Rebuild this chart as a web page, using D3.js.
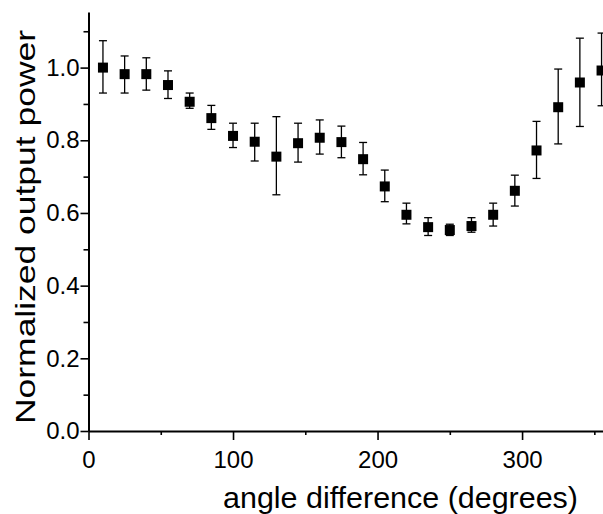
<!DOCTYPE html>
<html>
<head>
<meta charset="utf-8">
<script src="https://cdn.jsdelivr.net/npm/d3@7/dist/d3.min.js"></script>
<style>
  body { margin: 0; background: #fff; }
  text { font-family: "Liberation Sans", Arial, sans-serif; fill: #000; }
</style>
</head>
<body>
<script>
// chart data
var angles = [10, 25, 40, 55, 70, 85, 100, 115, 130, 145, 160, 175, 190, 205, 220, 235, 250, 265, 280, 295, 310, 325, 340, 355];
var power = [1.0, 0.982, 0.982, 0.952, 0.906, 0.861, 0.812, 0.796, 0.755, 0.792, 0.807, 0.795, 0.748, 0.673, 0.595, 0.561, 0.553, 0.564, 0.595, 0.661, 0.772, 0.891, 0.959, 0.992];
var errUp = [0.074, 0.05, 0.045, 0.039, 0.024, 0.035, 0.035, 0.051, 0.11, 0.055, 0.049, 0.044, 0.046, 0.045, 0.032, 0.026, 0.016, 0.023, 0.032, 0.043, 0.08, 0.105, 0.122, 0.103];
var errDown = [0.07, 0.052, 0.044, 0.037, 0.018, 0.031, 0.032, 0.053, 0.105, 0.052, 0.045, 0.043, 0.043, 0.042, 0.025, 0.023, 0.015, 0.017, 0.031, 0.042, 0.077, 0.101, 0.121, 0.097];
var xTicks = [0, 100, 200, 300];
var xMinor = [50, 150, 250, 350];
var yTicks = [0, 0.2, 0.4, 0.6, 0.8, 1.0];
var yMinor = [0.1, 0.3, 0.5, 0.7, 0.9, 1.1];

var w = 603, h = 514;

var svg = d3.select("body")
    .append("svg")
    .attr("width", w)
    .attr("height", h);

var x = d3.scaleLinear().domain([0, 356]).range([88.5, 603]);
var y = d3.scaleLinear().domain([0, 1.153]).range([431, 12]);

var pts = angles.map(function(a, i){
    return { a: a, v: power[i], up: errUp[i], dn: errDown[i] };
});

// minor ticks
svg.append("g")
    .attr("transform", "translate(0," + y(0) + ")")
    .call(d3.axisBottom(x).tickValues(xMinor).tickSize(4).tickSizeOuter(0).tickFormat(""))
    .call(function(g){ g.select(".domain").remove(); })
    .selectAll("line").attr("stroke-width", 1.6);

svg.append("g")
    .attr("transform", "translate(" + x(0) + ",0)")
    .call(d3.axisLeft(y).tickValues(yMinor).tickSize(5).tickSizeOuter(0).tickFormat(""))
    .call(function(g){ g.select(".domain").remove(); })
    .selectAll("line").attr("stroke-width", 1.6);

// x axis
var xAxis = svg.append("g")
    .attr("transform", "translate(0," + y(0) + ")")
    .call(d3.axisBottom(x).tickValues(xTicks).tickSize(9).tickSizeOuter(0).tickPadding(11));
xAxis.select(".domain").attr("stroke-width", 2);
xAxis.selectAll("line").attr("stroke-width", 1.6);
xAxis.selectAll("text")
    .style("font-size", "24px")
    .style("font-family", "'Liberation Sans', Arial, sans-serif");

// y axis
var yAxis = svg.append("g")
    .attr("transform", "translate(" + x(0) + ",0)")
    .call(d3.axisLeft(y).tickValues(yTicks).tickSize(8).tickSizeOuter(0).tickPadding(1).tickFormat(d3.format(".1f")));
yAxis.select(".domain").attr("stroke-width", 2);
yAxis.selectAll("line").attr("stroke-width", 1.6);
yAxis.selectAll("text")
    .style("font-size", "24px")
    .style("font-family", "'Liberation Sans', Arial, sans-serif");

// error bars
var bars = svg.selectAll(".err")
    .data(pts)
    .enter()
    .append("g")
    .attr("class", "err")
    .attr("stroke", "#000")
    .attr("stroke-width", 1.3);

bars.append("line")
    .attr("x1", function(d){ return x(d.a); })
    .attr("x2", function(d){ return x(d.a); })
    .attr("y1", function(d){ return y(d.v + d.up); })
    .attr("y2", function(d){ return y(d.v - d.dn); });

bars.append("line")
    .attr("x1", function(d){ return x(d.a) - 4; })
    .attr("x2", function(d){ return x(d.a) + 4; })
    .attr("y1", function(d){ return y(d.v + d.up); })
    .attr("y2", function(d){ return y(d.v + d.up); });

bars.append("line")
    .attr("x1", function(d){ return x(d.a) - 4; })
    .attr("x2", function(d){ return x(d.a) + 4; })
    .attr("y1", function(d){ return y(d.v - d.dn); })
    .attr("y2", function(d){ return y(d.v - d.dn); });

// square markers
svg.selectAll(".pt")
    .data(pts)
    .enter()
    .append("rect")
    .attr("class", "pt")
    .attr("x", function(d){ return x(d.a) - 5; })
    .attr("y", function(d){ return y(d.v) - 5; })
    .attr("width", 10)
    .attr("height", 10)
    .attr("fill", "#000");

// axis titles
svg.append("text")
    .attr("x", 223)
    .attr("y", 508)
    .attr("textLength", 355)
    .attr("lengthAdjust", "spacingAndGlyphs")
    .style("font-size", "30px")
    .text("angle difference (degrees)");

svg.append("text")
    .attr("transform", "translate(35,227) rotate(-90)")
    .attr("text-anchor", "middle")
    .attr("textLength", 394)
    .attr("lengthAdjust", "spacingAndGlyphs")
    .style("font-size", "28px")
    .text("Normalized output power");
</script>
</body>
</html>
